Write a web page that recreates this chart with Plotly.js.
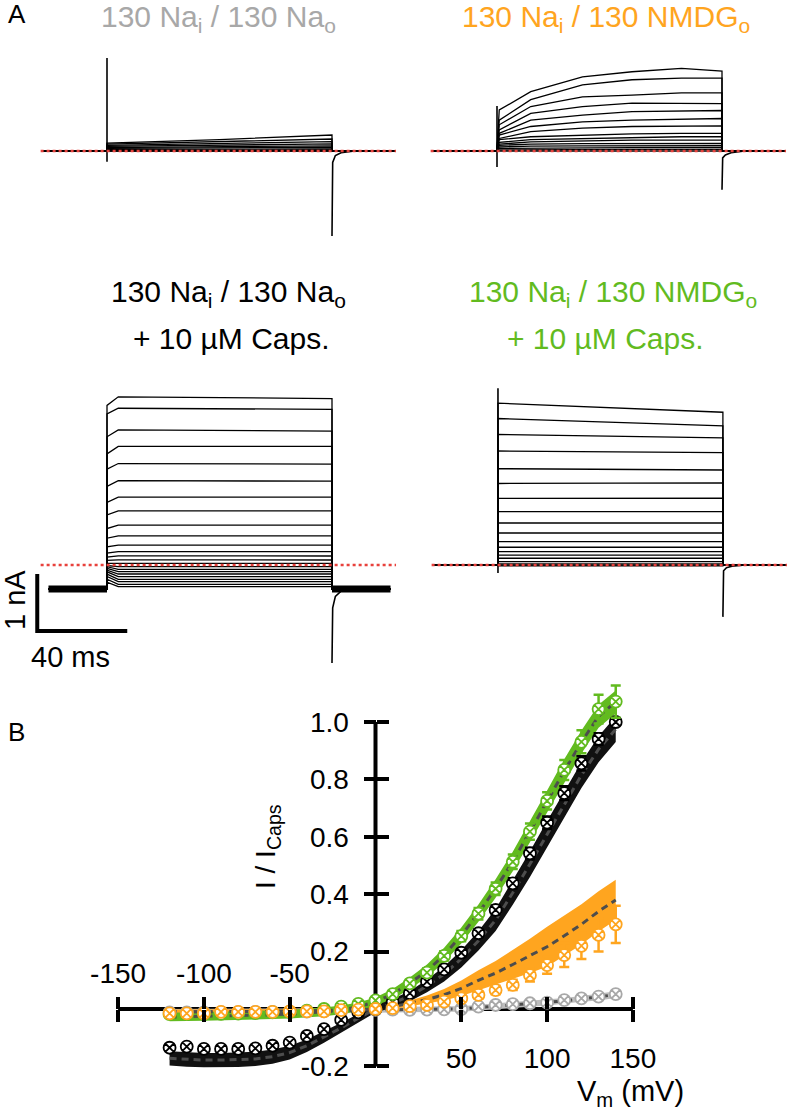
<!DOCTYPE html>
<html>
<head>
<meta charset="utf-8">
<script src="https://cdn.plot.ly/plotly-3.0.1.min.js"></script>
<style>body{margin:0;background:#fff}#plotArea{width:787px;height:1114px}</style>
</head>
<body>
<div id="plotArea"></div>
<script>
//// Panel A: current sweeps (nA), read at a few times (ms) of the 100 ms step
var tlTimes = [0, 50, 100];
var tlLevels = [
    [0.14, 0.20, 0.28], [0.12, 0.16, 0.21], [0.10, 0.13, 0.165], [0.08, 0.10, 0.125],
    [0.06, 0.075, 0.09], [0.045, 0.055, 0.065], [0.03, 0.03, 0.035], [0.015, 0.015, 0.018],
    [0.005, 0.005, 0.005], [-0.005, -0.005, -0.005]
];
var tlSpikeOn = [-0.19, 1.63];
var tlSpikeOff = [-1.49, -0.2, -0.08, -0.03, 0];

var trTimes = [0, 1, 15, 38, 60, 82, 100];
var trLevels = [
    [0.05, 0.72, 1.04, 1.30, 1.39, 1.45, 1.40],
    [0.05, 0.54, 0.90, 1.16, 1.25, 1.28, 1.28],
    [0.05, 0.46, 0.78, 0.95, 0.98, 1.02, 1.02],
    [0.04, 0.37, 0.66, 0.78, 0.84, 0.84, 0.83],
    [0.04, 0.31, 0.54, 0.63, 0.69, 0.70, 0.71],
    [0.03, 0.28, 0.43, 0.51, 0.54, 0.56, 0.57],
    [0.03, 0.22, 0.34, 0.40, 0.43, 0.44, 0.44],
    [0.02, 0.20, 0.25, 0.28, 0.30, 0.31, 0.31],
    [0.02, 0.15, 0.20, 0.22, 0.24, 0.25, 0.25],
    [0.02, 0.12, 0.16, 0.18, 0.19, 0.19, 0.19],
    [0.01, 0.10, 0.12, 0.13, 0.135, 0.135, 0.135],
    [0.01, 0.07, 0.085, 0.09, 0.093, 0.093, 0.093],
    [0.01, 0.045, 0.05, 0.055, 0.058, 0.058, 0.058],
    [0.0, 0.02, 0.025, 0.03, 0.03, 0.03, 0.03],
    [0.0, 0.005, 0.005, 0.005, 0.005, 0.005, 0.005]
];
var trSpikeOn = [-0.28, 0.79];
var trSpikeOff = [-0.68, -0.12, -0.07, -0.03, 0];

var blTimes = [0, 5, 100];
var blLevels = [
    [2.80, 2.95, 2.92], [2.65, 2.75, 2.73], [2.25, 2.37, 2.35], [1.95, 2.08, 2.08],
    [1.68, 1.78, 1.77], [1.38, 1.48, 1.47], [1.10, 1.19, 1.19], [0.88, 0.95, 0.95],
    [0.64, 0.70, 0.70], [0.47, 0.51, 0.51], [0.32, 0.35, 0.35], [0.21, 0.235, 0.234],
    [0.14, 0.16, 0.158], [0.08, 0.09, 0.088], [0.03, 0.03, 0.03], [-0.01, -0.03, -0.03],
    [-0.03, -0.075, -0.075], [-0.06, -0.117, -0.117], [-0.09, -0.158, -0.158],
    [-0.12, -0.205, -0.205], [-0.16, -0.251, -0.251], [-0.2, -0.293, -0.293],
    [-0.25, -0.34, -0.34], [-0.3, -0.38, -0.38]
];
var blHold = -0.42;
var blSpikeOff = [-1.72, -0.75, -0.55, -0.46, -0.42];

var brTimes = [0, 50, 100];
var brLevels = [
    [2.84, 2.76, 2.68], [2.57, 2.50, 2.44], [2.29, 2.26, 2.23], [2.00, 1.99, 1.97],
    [1.69, 1.68, 1.667], [1.43, 1.44, 1.44], [1.17, 1.175, 1.175], [0.935, 0.935, 0.935],
    [0.737, 0.737, 0.737], [0.561, 0.561, 0.561], [0.409, 0.409, 0.409], [0.311, 0.311, 0.311],
    [0.233, 0.233, 0.233], [0.175, 0.175, 0.175], [0.118, 0.118, 0.118], [0.058, 0.058, 0.058],
    [0.018, 0.018, 0.018], [-0.005, -0.005, -0.005], [-0.015, -0.015, -0.015]
];
var brSpikeOn = [-0.14, 3.1];
var brSpikeOff = [-0.91, -0.1, -0.05, -0.02, 0];

var offTailTimes = [100, 100.3, 101.5, 104, 110];

//// Panel B: normalized I-V (step protocol points + ramp mean/SEM)
var vm = [-120, -110, -100, -90, -80, -70, -60, -50, -40, -30, -20, -10, 0, 10, 20, 30, 40, 50, 60, 70, 80, 90, 100, 110, 120, 130, 140];

var naCapsSteps = [-0.135, -0.131, -0.139, -0.139, -0.139, -0.137, -0.128, -0.117, -0.094, -0.070, -0.038, -0.012, 0.0, 0.025, 0.055, 0.095, 0.138, 0.196, 0.264, 0.345, 0.438, 0.542, 0.649, 0.752, 0.856, 0.941, 1.0];
var naCapsErr = [0.01, 0.01, 0.01, 0.01, 0.01, 0.01, 0.01, 0.01, 0.01, 0.008, 0.006, 0.004, 0.002, 0.004, 0.006, 0.008, 0.01, 0.012, 0.014, 0.016, 0.018, 0.02, 0.022, 0.024, 0.025, 0.02, 0];
var naCapsRamp = [-0.172, -0.176, -0.178, -0.178, -0.177, -0.174, -0.166, -0.152, -0.128, -0.098, -0.066, -0.032, 0.0, 0.02, 0.045, 0.08, 0.122, 0.175, 0.238, 0.31, 0.405, 0.505, 0.61, 0.712, 0.815, 0.905, 0.975];
var naCapsRampSem = [0.025, 0.025, 0.025, 0.025, 0.025, 0.025, 0.025, 0.024, 0.022, 0.02, 0.018, 0.015, 0.012, 0.015, 0.018, 0.022, 0.026, 0.03, 0.034, 0.038, 0.042, 0.045, 0.045, 0.045, 0.045, 0.045, 0.045];

var nmdgCapsSteps = [-0.018, -0.018, -0.018, -0.017, -0.016, -0.014, -0.012, -0.01, -0.006, 0.0, 0.008, 0.018, 0.03, 0.052, 0.089, 0.127, 0.185, 0.254, 0.332, 0.419, 0.513, 0.618, 0.725, 0.833, 0.931, 1.045, 1.071];
var nmdgCapsErr = [0.006, 0.006, 0.006, 0.006, 0.006, 0.006, 0.006, 0.006, 0.006, 0.006, 0.006, 0.007, 0.008, 0.01, 0.012, 0.014, 0.016, 0.018, 0.02, 0.022, 0.025, 0.028, 0.03, 0.035, 0.04, 0.05, 0.056];
var nmdgCapsRamp = [-0.028, -0.027, -0.026, -0.025, -0.024, -0.022, -0.02, -0.018, -0.015, -0.01, -0.003, 0.008, 0.025, 0.052, 0.09, 0.133, 0.188, 0.256, 0.334, 0.42, 0.514, 0.617, 0.723, 0.83, 0.93, 1.02, 1.07];
var nmdgCapsRampSem = [0.015, 0.015, 0.015, 0.015, 0.015, 0.015, 0.015, 0.015, 0.015, 0.015, 0.015, 0.015, 0.015, 0.018, 0.02, 0.022, 0.025, 0.028, 0.03, 0.032, 0.034, 0.036, 0.038, 0.04, 0.04, 0.04, 0.04];

var nmdgSteps = [-0.015, -0.015, -0.015, -0.01, -0.01, -0.01, -0.01, -0.008, -0.008, -0.008, -0.004, -0.002, 0.0, 0.003, 0.01, 0.014, 0.026, 0.037, 0.049, 0.066, 0.084, 0.118, 0.153, 0.188, 0.22, 0.258, 0.295];
var nmdgErr = [0.003, 0.003, 0.003, 0.003, 0.003, 0.003, 0.003, 0.003, 0.003, 0.003, 0.003, 0.003, 0.003, 0.004, 0.005, 0.006, 0.008, 0.01, 0.012, 0.015, 0.018, 0.022, 0.03, 0.042, 0.046, 0.058, 0.065];
var nmdgRamp = [-0.01, -0.01, -0.01, -0.01, -0.01, -0.01, -0.009, -0.008, -0.007, -0.006, -0.004, -0.002, 0.0, 0.008, 0.02, 0.033, 0.05, 0.072, 0.1, 0.125, 0.155, 0.185, 0.217, 0.255, 0.295, 0.34, 0.38];
var nmdgRampSem = [0.008, 0.008, 0.008, 0.008, 0.008, 0.008, 0.008, 0.008, 0.008, 0.008, 0.008, 0.008, 0.006, 0.008, 0.01, 0.014, 0.02, 0.027, 0.035, 0.042, 0.05, 0.06, 0.07, 0.07, 0.07, 0.07, 0.07];

var naSteps = [-0.012, -0.012, -0.012, -0.011, -0.011, -0.01, -0.01, -0.01, -0.009, -0.008, -0.007, -0.005, -0.003, -0.002, -0.003, -0.002, -0.001, 0.0, 0.008, 0.014, 0.017, 0.02, 0.022, 0.031, 0.037, 0.043, 0.052];
var naErr = [0.004, 0.004, 0.004, 0.004, 0.004, 0.004, 0.004, 0.004, 0.004, 0.004, 0.004, 0.004, 0.004, 0.004, 0.004, 0.004, 0.004, 0.004, 0.004, 0.004, 0.004, 0.004, 0.004, 0.004, 0.004, 0.004, 0.004];
var naRamp = [-0.01, -0.01, -0.01, -0.01, -0.01, -0.01, -0.009, -0.008, -0.007, -0.006, -0.005, -0.003, -0.002, -0.002, -0.002, -0.001, 0.0, 0.0, 0.006, 0.01, 0.014, 0.018, 0.022, 0.028, 0.035, 0.042, 0.05];
var naRampSem = [0.01, 0.01, 0.01, 0.01, 0.01, 0.01, 0.01, 0.01, 0.01, 0.01, 0.01, 0.01, 0.01, 0.01, 0.01, 0.01, 0.01, 0.01, 0.01, 0.01, 0.01, 0.01, 0.01, 0.01, 0.01, 0.012, 0.012];

var negTicks = [-150, -100, -50];
var negTickText = ["-150", "-100", "-50"];
var posTicks = [50, 100, 150];
var yTickVals = [-0.2, 0.2, 0.4, 0.6, 0.8, 1.0];
var yTickText = ["-0.2", "0.2", "0.4", "0.6", "0.8", "1.0"];

// colours
var cBlack = "#000000", cGreen = "#62bb1f", cOrange = "#ffa51f", cGray = "#a8a8a8";
var FONT = "Liberation Sans, Arial, sans-serif";

// page geometry (px)
var W = 787, H = 1114, PX_MS = 2.25, PX_NA = 57;
function domX(t0, r) { return [(t0 + r[0] * PX_MS) / W, (t0 + r[1] * PX_MS) / W]; }
function domY(z, r) { return [1 - (z - r[0] * PX_NA) / H, 1 - (z - r[1] * PX_NA) / H]; }
function px(x) { return x / W; }
function py(y) { return 1 - y / H; }

var data = [];

function addSweeps(ax, times, levels, hold, tA, tB) {
    levels.forEach(function (lv) {
        data.push({
            x: [tA, 0].concat(times, [100, tB]),
            y: [hold, hold].concat(lv, [hold, hold]),
            xaxis: "x" + ax, yaxis: "y" + ax,
            mode: "lines", line: {color: "#000", width: 1.3}, hoverinfo: "skip"
        });
    });
}
function addSpikes(ax, on, off) {
    if (on) data.push({x: [0, 0], y: on, xaxis: "x" + ax, yaxis: "y" + ax,
        mode: "lines", line: {color: "#000", width: 1.6}});
    data.push({x: offTailTimes, y: off, xaxis: "x" + ax, yaxis: "y" + ax,
        mode: "lines", line: {color: "#000", width: 1.6}});
}
function addZero(ax) {
    data.push({x: [-29.5, 128.5], y: [0, 0], xaxis: "x" + ax, yaxis: "y" + ax,
        mode: "lines", line: {color: "#e8413c", width: 2.5, dash: "3px,3px"}});
}

addSweeps("", tlTimes, tlLevels, 0, -29, 128);
addSpikes("", tlSpikeOn, tlSpikeOff);
addSweeps("2", trTimes, trLevels, 0, -29, 128);
addSpikes("2", trSpikeOn, trSpikeOff);
// thick noisy holding level
data.push({x: [-26, 0, null, 100, 126], y: [blHold, blHold, null, blHold, blHold],
    xaxis: "x3", yaxis: "y3", mode: "lines", line: {color: "#000", width: 7}});
addSweeps("3", blTimes, blLevels, blHold, -26, 126);
addSpikes("3", null, blSpikeOff);
addSweeps("4", brTimes, brLevels, 0, -29, 128);
addSpikes("4", brSpikeOn, brSpikeOff);
// scale bar: 1 nA / 40 ms
data.push({x: [-31, -31, 9], y: [-0.16, -1.16, -1.16], xaxis: "x3", yaxis: "y3",
    mode: "lines", line: {color: "#000", width: 4}});
addZero(""); addZero("2"); addZero("3"); addZero("4");

// panel B
function band(m, s, color) {
    var up = m.map(function (v, i) { return v + s[i]; });
    var lo = m.map(function (v, i) { return v - s[i]; }).reverse();
    data.push({x: vm.concat(vm.slice().reverse()), y: up.concat(lo), xaxis: "x5", yaxis: "y5",
        mode: "lines", fill: "toself", fillcolor: color, line: {width: 0}, hoverinfo: "skip"});
}
function meanLine(m) {
    data.push({x: vm, y: m, xaxis: "x5", yaxis: "y5", mode: "lines",
        line: {color: "#4d4d4d", width: 3, dash: "7px,5px"}});
}
function points(v, e, color) {
    data.push({x: vm, y: v, xaxis: "x5", yaxis: "y5", mode: "markers", cliponaxis: false,
        marker: {symbol: "circle-x", size: 12, color: "#fff", line: {color: color, width: 1.8}},
        error_y: {type: "data", array: e, visible: true, color: color, thickness: 2.5, width: 5}});
}
band(naRamp, naRampSem, "#bdbdbd");
band(nmdgRamp, nmdgRampSem, cOrange);
band(nmdgCapsRamp, nmdgCapsRampSem, cGreen);
band(naCapsRamp, naCapsRampSem, "#111111");
meanLine(naRamp); meanLine(nmdgRamp); meanLine(nmdgCapsRamp); meanLine(naCapsRamp);
points(naSteps, naErr, cGray);
points(naCapsSteps, naCapsErr, cBlack);
points(nmdgCapsSteps, nmdgCapsErr, cGreen);
points(nmdgSteps, nmdgErr, cOrange);
// empty traces so the overlay axes get drawn
["x6", "x7", "x8"].forEach(function (a) { data.push({x: [], y: [], xaxis: a, yaxis: "y5"}); });
data.push({x: [], y: [], xaxis: "x5", yaxis: "y6"});

var hidden = {visible: false, fixedrange: true};
var rA = [-35, 128.5], rTop = [-2, 2], rBot = [-2.0, 3.5];
var xB = [-152, 152], yB = [-0.23, 1.15];
var x0px = 375.5, y0px = 1009, pxMv = 1.716, pxUnit = 287;

function ax(extra) { return Object.assign({}, hidden, extra); }

var tickBase = {showline: false, showgrid: false, zeroline: false, ticks: "outside", ticklen: 12,
    tickwidth: 4, tickcolor: "#000", tickfont: {family: FONT, size: 28, color: "#000"}, fixedrange: true};
function xB_axis(extra) {
    return Object.assign({}, tickBase, {range: xB, anchor: "free", position: py(y0px)}, extra);
}

var layout = {
    width: W, height: H, margin: {l: 0, r: 0, t: 0, b: 0},
    paper_bgcolor: "#fff", plot_bgcolor: "rgba(0,0,0,0)", showlegend: false,
    font: {family: FONT, color: "#000"},
    xaxis: ax({domain: domX(107, rA), range: rA}), yaxis: ax({domain: domY(151, rTop), range: rTop}),
    xaxis2: ax({domain: domX(497, rA), range: rA}), yaxis2: ax({domain: domY(151, rTop), range: rTop}),
    xaxis3: ax({domain: domX(107, rA), range: rA}), yaxis3: ax({domain: domY(565, rBot), range: rBot}),
    xaxis4: ax({domain: domX(498, rA), range: rA}), yaxis4: ax({domain: domY(565, rBot), range: rBot}),
    xaxis5: xB_axis({domain: [px(x0px + xB[0] * pxMv), px(x0px + xB[1] * pxMv)], side: "bottom",
        tickvals: posTicks, ticklabelstandoff: 12}),
    xaxis6: xB_axis({overlaying: "x5", side: "top", tickvals: negTicks, ticktext: negTickText,
        ticklabelstandoff: 3}),
    xaxis7: xB_axis({overlaying: "x5", side: "bottom", tickvals: negTicks, showticklabels: false}),
    xaxis8: xB_axis({overlaying: "x5", side: "top", tickvals: posTicks, showticklabels: false}),
    yaxis5: Object.assign({}, tickBase, {
        domain: [py(y0px - yB[0] * pxUnit), py(y0px - yB[1] * pxUnit)], range: yB,
        anchor: "free", position: px(x0px), side: "left",
        tickvals: yTickVals, ticktext: yTickText, ticklabelstandoff: 9
    }),
    yaxis6: Object.assign({}, tickBase, {
        overlaying: "y5", range: yB, anchor: "free", position: px(x0px), side: "right",
        tickvals: yTickVals, showticklabels: false
    }),
    shapes: [
        {type: "line", xref: "x5", yref: "y5", x0: -150, x1: 150, y0: 0, y1: 0, layer: "below",
            line: {color: "#000", width: 4}},
        {type: "line", xref: "x5", yref: "y5", x0: 0, x1: 0, y0: -0.2, y1: 1.0, layer: "below",
            line: {color: "#000", width: 4}}
    ],
    annotations: []
};

function note(x, y, text, size, color, extra) {
    layout.annotations.push(Object.assign({
        xref: "paper", yref: "paper", x: px(x), y: py(y), text: text, showarrow: false,
        xanchor: "center", yanchor: "middle", font: {family: FONT, size: size, color: color}
    }, extra || {}));
}
note(6, 14, "A", 26, "#000", {xanchor: "left"});
note(6, 732, "B", 26, "#000", {xanchor: "left"});
note(218, 19, "130 Na<sub>i</sub> / 130 Na<sub>o</sub>", 30, cGray);
note(606, 19, "130 Na<sub>i</sub> / 130 NMDG<sub>o</sub>", 30, cOrange);
note(228, 293, "130 Na<sub>i</sub> / 130 Na<sub>o</sub>", 30, "#000");
note(232, 338, "+ 10 µM Caps.", 30, "#000");
note(613, 293, "130 Na<sub>i</sub> / 130 NMDG<sub>o</sub>", 30, cGreen);
note(605, 338, "+ 10 µM Caps.", 30, cGreen);
note(15, 600, "1 nA", 29, "#000", {textangle: -90});
note(70, 657, "40 ms", 29, "#000");
note(267, 847, "I / I<sub>Caps</sub>", 28, "#000", {textangle: -90});
note(630, 1093, "V<sub>m</sub> (mV)", 29, "#000");

Plotly.newPlot("plotArea", data, layout, {staticPlot: true});
</script>
</body>
</html>
